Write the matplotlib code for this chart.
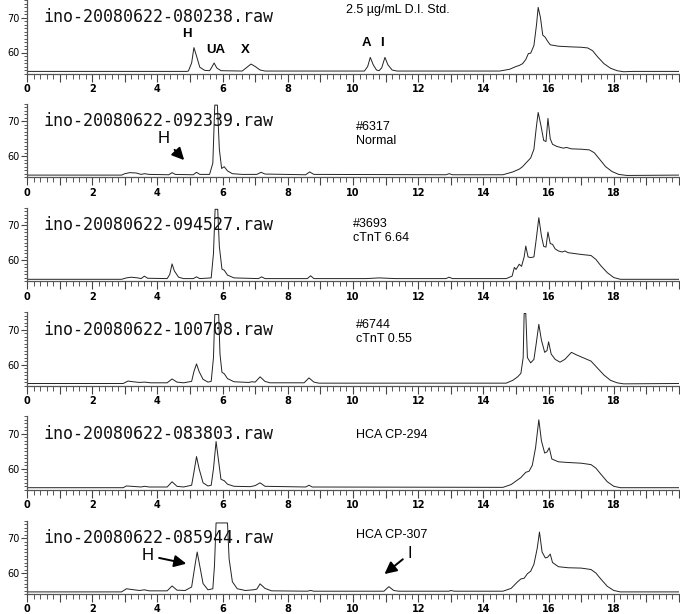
import matplotlib
matplotlib.use("Agg")
import matplotlib.pyplot as plt
from matplotlib.ticker import MultipleLocator, FuncFormatter

# traced chromatograms (retention time in min, signal)
std_x = [0, 4.9, 4.95, 5.05, 5.12, 5.2, 5.3, 5.45, 5.6, 5.65, 5.74, 5.82, 5.95,
         6.6, 6.75, 6.87, 7.0, 7.15, 7.3, 10.35, 10.45, 10.53, 10.62, 10.72, 10.8,
         10.88, 10.98, 11.07, 11.2, 11.35, 14.5, 14.8, 15.0, 15.1, 15.2, 15.3, 15.38,
         15.45, 15.55, 15.63, 15.68, 15.75, 15.82, 15.9, 15.95, 16.05, 16.3, 16.7,
         17.0, 17.2, 17.35, 17.5, 17.7, 17.9, 18.1, 18.3, 18.6, 20]
std_y = [54.6, 54.6, 54.7, 57.0, 61.4, 59.0, 55.8, 54.9, 54.8, 55.5, 57.0, 55.6, 54.8,
         54.7, 55.8, 56.7, 56.0, 55.0, 54.7, 54.7, 56.0, 58.6, 56.5, 55.0, 54.8,
         55.6, 58.6, 56.5, 55.0, 54.7, 54.7, 55.2, 56.0, 56.3, 56.8, 58.0, 59.7,
         59.8, 62.0, 68.0, 72.9, 70.0, 65.0, 64.3, 63.5, 62.2, 61.8, 61.6,
         61.5, 61.3, 60.5, 58.8, 56.8, 55.5, 54.8, 54.5, 54.6, 54.6]

s6317_x = [0, 2.9, 3.0, 3.15, 3.35, 3.5, 3.6, 3.75, 4.35, 4.45, 4.55, 5.1, 5.2, 5.3,
           5.6, 5.7, 5.76, 5.84, 5.9, 5.97, 6.05, 6.15, 6.3, 6.6, 7.05, 7.18, 7.3,
           8.55, 8.67, 8.8, 12.85, 12.95, 13.05, 14.6, 14.9, 15.1, 15.2, 15.35, 15.45,
           15.55, 15.62, 15.68, 15.76, 15.85, 15.92, 15.98, 16.05, 16.12, 16.25,
           16.45, 16.55, 16.7, 17.0, 17.25, 17.4, 17.55, 17.75, 17.95, 18.15, 18.4, 20]
s6317_y = [54.6, 54.6, 55.0, 55.3, 55.2, 54.8, 55.0, 54.8, 54.7, 55.3, 54.8, 54.7, 55.4, 54.8,
           54.8, 58.0, 74.6, 74.6, 62.0, 56.5, 57.0, 55.8, 55.0, 54.8, 54.8, 55.4, 54.9,
           54.7, 55.5, 54.8, 54.7, 55.0, 54.7, 54.7, 55.5, 56.3, 57.0, 58.5, 59.5,
           62.0, 68.0, 72.5, 69.0, 64.5, 64.2, 70.8, 65.0, 63.4, 62.8,
           62.3, 62.5, 62.1, 62.0, 61.8, 61.0, 59.3, 57.0, 55.6, 54.8, 54.5, 54.6]

s3693_x = [0, 2.9, 3.05, 3.2, 3.4, 3.5, 3.6, 3.7, 4.3, 4.38, 4.45, 4.52, 4.65, 4.8,
           5.1, 5.2, 5.3, 5.65, 5.72, 5.77, 5.85, 5.9, 5.98, 6.05, 6.15, 6.35, 7.1,
           7.2, 7.3, 8.6, 8.7, 8.8, 10.4, 10.8, 11.3, 12.85, 12.95, 13.05, 14.7,
           14.88, 14.95, 15.0, 15.1, 15.17, 15.25, 15.3, 15.37, 15.45, 15.55, 15.62,
           15.7, 15.78, 15.85, 15.92, 15.98, 16.05, 16.12, 16.2, 16.3, 16.42, 16.5,
           16.6, 17.0, 17.3, 17.45, 17.6, 17.8, 18.0, 18.2, 20]
s3693_y = [54.6, 54.6, 55.0, 55.2, 55.0, 54.8, 55.5, 54.9, 54.8, 56.0, 59.0, 57.0, 55.2, 54.8,
           54.8, 55.3, 54.8, 55.0, 62.0, 74.6, 74.6, 64.0, 57.5, 57.2, 55.8, 55.0, 54.8,
           55.3, 54.8, 54.8, 55.6, 54.8, 54.8, 55.0, 54.8, 54.8, 55.2, 54.8, 54.8,
           55.5, 58.0, 57.4, 58.9, 58.3, 61.0, 64.1, 61.0, 60.8, 61.0, 66.0,
           72.2, 67.0, 64.0, 63.8, 68.1, 64.8, 64.6, 63.3, 62.7, 62.4, 62.7,
           62.2, 61.7, 61.4, 60.3, 58.5, 56.5, 55.1, 54.6, 54.6]

s6744_x = [0, 2.95, 3.1, 3.25, 3.45, 3.6, 3.8, 4.3, 4.45, 4.6, 4.8, 5.05, 5.12, 5.2,
           5.28, 5.4, 5.55, 5.65, 5.72, 5.76, 5.88, 5.92, 5.98, 6.05, 6.15, 6.35, 6.8,
           6.9, 7.0, 7.15, 7.3, 7.45, 8.5, 8.65, 8.8, 8.95, 14.7, 14.9, 15.05, 15.15,
           15.22, 15.25, 15.3, 15.35, 15.45, 15.55, 15.62, 15.7, 15.78, 15.88, 15.95,
           16.0, 16.08, 16.2, 16.35, 16.5, 16.7, 16.85, 17.05, 17.3, 17.5, 17.7, 17.9,
           18.1, 18.3, 20]
s6744_y = [54.6, 54.6, 55.3, 55.1, 54.9, 55.0, 54.8, 54.8, 55.9, 55.0, 54.8, 55.2, 58.0, 60.2,
           58.0, 55.8, 55.0, 55.2, 62.0, 74.3, 74.3, 63.0, 57.8, 57.4, 56.0, 55.1, 54.9,
           55.1, 55.0, 56.5, 55.2, 54.8, 54.8, 56.2, 55.0, 54.7, 54.7, 55.5, 56.5, 57.5,
           62.0, 74.6, 74.6, 62.0, 60.5, 61.5, 66.0, 71.5, 67.0, 63.5, 64.0,
           66.5, 63.0, 61.5, 60.7, 61.5, 63.5, 62.8, 62.0, 61.0, 59.0, 57.0, 55.5,
           54.8, 54.5, 54.6]

cp294_x = [0, 2.95, 3.05, 3.2, 3.5, 3.6, 3.75, 4.3, 4.45, 4.6, 4.8, 5.05, 5.12, 5.2,
           5.28, 5.4, 5.55, 5.65, 5.72, 5.8, 5.88, 5.95, 6.05, 6.15, 6.35, 6.85, 7.0,
           7.15, 7.3, 8.55, 8.65, 8.75, 14.6, 14.85, 15.0, 15.15, 15.3, 15.4, 15.5,
           15.6, 15.7, 15.78, 15.88, 15.95, 16.02, 16.1, 16.3, 16.6, 17.0, 17.3,
           17.45, 17.6, 17.8, 18.0, 18.2, 20]
cp294_y = [54.6, 54.6, 55.1, 55.0, 54.8, 55.0, 54.8, 54.8, 56.3, 55.0, 54.8, 55.3, 59.0, 63.5,
           60.0, 56.0, 55.1, 55.3, 60.0, 67.8, 62.0, 57.0, 56.6, 55.6, 55.0, 54.9, 55.2,
           56.0, 55.0, 54.8, 55.3, 54.8, 54.7, 55.5, 56.5, 57.5, 59.0, 59.3, 61.0,
           66.0, 74.0, 68.0, 64.5, 64.8, 66.0, 62.8, 62.0, 61.8, 61.6, 61.2,
           60.2, 58.5, 56.3, 55.0, 54.6, 54.6]

cp307_x = [0, 2.9, 3.05, 3.2, 3.45, 3.6, 3.75, 4.3, 4.45, 4.6, 4.85, 5.05, 5.15, 5.22,
           5.3, 5.4, 5.55, 5.7, 5.75, 5.8, 6.15, 6.2, 6.3, 6.45, 6.7, 6.95, 7.05, 7.15,
           7.3, 7.5, 8.6, 8.7, 8.8, 10.95, 11.1, 11.25, 11.4, 12.95, 13.0, 13.1, 14.6,
           14.85, 15.05, 15.15, 15.25, 15.35, 15.45, 15.55, 15.65, 15.72, 15.8, 15.9,
           15.97, 16.05, 16.12, 16.3, 16.6, 17.0, 17.3, 17.45, 17.6, 17.8, 18.0, 18.2, 20]
cp307_y = [54.6, 54.6, 55.5, 55.3, 55.0, 55.2, 54.9, 54.9, 56.3, 55.1, 55.0, 56.0, 62.0, 66.0,
           62.0, 57.0, 55.2, 55.5, 62.0, 74.3, 74.3, 64.0, 57.5, 55.5, 55.0, 55.2, 55.4, 56.9,
           55.6, 54.9, 54.8, 55.0, 54.8, 54.8, 56.1, 55.0, 54.8, 54.8, 55.0, 54.8, 54.8,
           55.6, 57.5, 58.3, 58.5, 59.8, 60.5, 62.5, 67.0, 71.7, 66.0, 64.3,
           64.5, 65.4, 63.0, 61.8, 61.5, 61.4, 61.0, 60.0, 58.3, 56.2, 55.0, 54.6, 54.6]

files = ["ino-20080622-080238.raw", "ino-20080622-092339.raw",
         "ino-20080622-094527.raw", "ino-20080622-100708.raw",
         "ino-20080622-083803.raw", "ino-20080622-085944.raw"]
samples = ["2.5 µg/mL D.I. Std.", "#6317\nNormal", "#3693\ncTnT 6.64",
           "#6744\ncTnT 0.55", "HCA CP-294", "HCA CP-307"]
traces = [(std_x, std_y), (s6317_x, s6317_y), (s3693_x, s3693_y),
          (s6744_x, s6744_y), (cp294_x, cp294_y), (cp307_x, cp307_y)]

# peak labels of the standard
std_labels = ["H", "UA", "X", "A", "I"]
std_label_x = [4.9, 5.8, 6.7, 10.4, 10.9]
std_label_y = [65.4, 60.6, 60.6, 62.6, 62.6]

W, H = 680, 614
fig = plt.figure(figsize=(W / 100, H / 100), dpi=100)

sans = "Liberation Sans"
ax_h = 73.5
axes = []
for k in range(6):
    y70 = 17 + 104.2 * k
    top = max(y70 - 17.5, 0)
    ax = fig.add_axes([27 / W, 1 - (top + ax_h) / H, 652 / W, ax_h / H])
    axes.append(ax)
    x, y = traces[k]
    ax.plot(x, y, color="#222222", lw=0.7)
    ax.set_xlim(0, 20)
    ax.set_ylim(54, 75)
    for s in ["top", "right"]:
        ax.spines[s].set_visible(False)
    for s in ["left", "bottom"]:
        ax.spines[s].set_color("#555555")
        ax.spines[s].set_linewidth(0.9)

    ax.xaxis.set_major_locator(MultipleLocator(1))
    ax.xaxis.set_minor_locator(MultipleLocator(0.2))
    ax.xaxis.set_major_formatter(FuncFormatter(
        lambda v, p: "%d" % v if round(v) % 2 == 0 and v < 19.5 else ""))
    ax.yaxis.set_major_locator(MultipleLocator(10))
    ax.yaxis.set_minor_locator(MultipleLocator(1))
    ax.tick_params(axis="x", which="major", length=5.5, width=0.8, color="#444444",
                   labelsize=7, pad=2)
    ax.tick_params(axis="x", which="minor", length=3.5, width=0.7, color="#555555")
    ax.tick_params(axis="y", which="major", length=4, width=0.8, color="#444444",
                   labelsize=7, pad=1)
    ax.tick_params(axis="y", which="minor", length=2.5, width=0.7, color="#555555")
    for lab in ax.get_xticklabels():
        lab.set_fontweight("bold")
    ax.patch.set_alpha(0)

    ax.text(0.52, 70, files[k], family="DejaVu Sans Mono", fontsize=12,
            va="center", ha="left", color="#111111")

# sample descriptions
axes[0].text(9.8, 72.2, samples[0], family=sans, fontsize=9, va="center")
axes[1].text(10.1, 66.3, samples[1], family=sans, fontsize=9, va="center",
             linespacing=1.25)
axes[2].text(10.0, 68.5, samples[2], family=sans, fontsize=9, va="center",
             linespacing=1.25)
axes[3].text(10.1, 69.4, samples[3], family=sans, fontsize=9, va="center",
             linespacing=1.25)
axes[4].text(10.1, 69.7, samples[4], family=sans, fontsize=9, va="center")
axes[5].text(10.1, 71.0, samples[5], family=sans, fontsize=9, va="center")

for lab, lx, ly in zip(std_labels, std_label_x, std_label_y):
    axes[0].text(lx, ly, lab, family=sans, fontsize=9.5, fontweight="bold",
                 ha="center", va="center")

arrow = dict(arrowstyle="-|>,head_length=0.6,head_width=0.3", color="black", lw=1.4)
axes[1].annotate("H", xy=(4.88, 58.3), xytext=(4.2, 65.1), family=sans, fontsize=12,
                 ha="center", va="center", arrowprops=arrow)
axes[5].annotate("H", xy=(4.97, 62.5), xytext=(3.7, 65.0), family=sans, fontsize=12,
                 ha="center", va="center", arrowprops=arrow)
axes[5].annotate("I", xy=(10.9, 59.2), xytext=(11.75, 65.6), family=sans, fontsize=12,
                 ha="center", va="center", arrowprops=arrow)

fig.savefig("out.png", dpi=100)
